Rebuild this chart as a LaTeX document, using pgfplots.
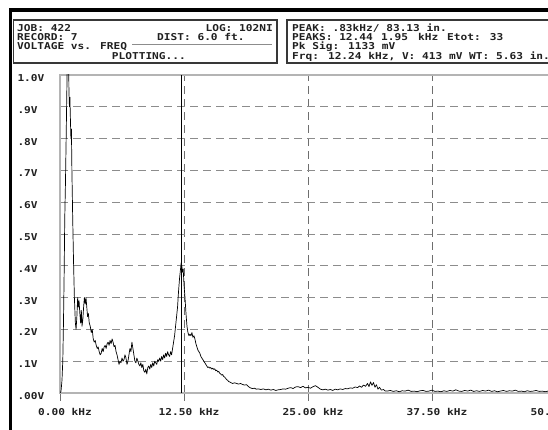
\documentclass[border=0pt]{standalone}
\usepackage{pgfplots}
\pgfplotsset{compat=1.18}
\usepackage{fontspec}
\newfontfamily\bmf{DejaVu Sans Mono}[FakeStretch=1.18]
\newcommand\hf{\fontsize{9.5}{10}\selectfont\bmf\bfseries}
\definecolor{txt}{HTML}{202020}
\definecolor{boxc}{HTML}{383838}
\definecolor{framec}{HTML}{B4B4B4}
\definecolor{hgridc}{HTML}{8C8C8C}
\definecolor{vgridc}{HTML}{6E6E6E}
\begin{document}
\begin{tikzpicture}
\useasboundingbox (0bp,0bp) rectangle (548bp,430bp);
\fill[white] (0bp,0bp) rectangle (548bp,430bp);
% black border
\fill[black] (9bp,418bp) rectangle (548bp,422bp);
\fill[black] (9bp,0bp) rectangle (12bp,422bp);
% header boxes
\draw[boxc, line width=1.3bp] (13.5bp,410bp) rectangle (277bp,367bp);
\draw[boxc, line width=1.3bp] (287bp,410bp) rectangle (570bp,367bp);
\begin{scope}[every node/.style={inner sep=0pt, text=txt, font=\hf}]
\node[anchor=base west] at (17bp,398.6bp) {JOB: 422};
\node[anchor=base east] at (273bp,398.6bp) {LOG: 102NI};
\node[anchor=base west] at (17bp,389.6bp) {RECORD: 7};
\node[anchor=base west] at (157bp,389.6bp) {DIST: 6.0 ft.};
\node[anchor=base west] at (17bp,380.1bp) {VOLTAGE vs. FREQ};
\node[anchor=base west] at (111.7bp,370.1bp) {PLOTTING...};
\node[anchor=base west] at (292bp,398.6bp) {PEAK: .83kHz/ 83.13 in.};
\node[anchor=base west] at (292bp,389.6bp) {PEAKS: 12.44};
\node[anchor=base west] at (381bp,389.6bp) {1.95};
\node[anchor=base west] at (418bp,389.6bp) {kHz};
\node[anchor=base west] at (447bp,389.6bp) {Etot: 33};
\node[anchor=base west] at (292bp,380.1bp) {Pk Sig: 1133 mV};
\node[anchor=base west] at (292bp,370.1bp) {Frq: 12.24 kHz, V: 413 mV WT: 5.63 in.};
\end{scope}
\draw[hgridc, line width=0.9bp] (132bp,385.5bp) -- (272bp,385.5bp);
\begin{axis}[
  at={(60bp,37bp)}, anchor=south west,
  scale only axis, width=496bp, height=318bp,
  xmin=0, xmax=50, ymin=0, ymax=1,
  axis line style={draw=framec, line width=1.6bp},
  xtick={0,12.5,25,37.5,50},
  xticklabels={0.00 kHz,12.50 kHz,25.00 kHz,37.50 kHz,50.00 kHz},
  ytick={0,0.1,0.2,0.3,0.4,0.5,0.6,0.7,0.8,0.9,1},
  yticklabels={.00V,.1V,.2V,.3V,.4V,.5V,.6V,.7V,.8V,.9V,{\raisebox{-5bp}{1.0V}}},
  xmajorgrids, ymajorgrids,
  x grid style={vgridc, dash pattern=on 8bp off 5bp, line width=0.8bp},
  y grid style={hgridc, dash pattern=on 8bp off 5bp, line width=0.8bp},
  tick pos=left, tick align=outside, major tick length=8bp,
  xtick style={vgridc, line width=0.8bp},
  ytick style={draw=none},
  ticklabel style={font=\hf, text=txt},
  xticklabel style={yshift=-4bp, xshift=5bp},
  yticklabel style={anchor=west, xshift=-38bp, yshift=-3bp},
  clip=true,
]
\addplot[black, line width=1.4bp] coordinates {(12.24,0) (12.24,1)};
\addplot[black, line width=0.7bp, line join=round] table {
x y
0.00 0.000
0.10 0.005
0.20 0.04
0.28 0.10
0.35 0.22
0.42 0.38
0.48 0.55
0.55 0.66
0.62 0.80
0.68 0.93
0.74 1.05
0.80 1.13
0.86 1.10
0.90 0.95
0.95 0.90
1.00 0.93
1.05 0.86
1.10 0.80
1.15 0.83
1.20 0.70
1.28 0.55
1.36 0.42
1.45 0.30
1.55 0.22
1.62 0.20
1.70 0.24
1.78 0.30
1.85 0.27
1.92 0.29
2.00 0.25
2.08 0.22
2.15 0.26
2.22 0.21
2.30 0.23
2.38 0.27
2.46 0.30
2.55 0.28
2.62 0.30
2.70 0.27
2.78 0.24
2.86 0.25
2.95 0.22
3.05 0.21
3.15 0.19
3.25 0.20
3.35 0.17
3.45 0.16
3.55 0.165
3.65 0.15
3.75 0.14
3.85 0.145
3.95 0.13
4.05 0.12
4.15 0.125
4.25 0.14
4.35 0.13
4.45 0.145
4.55 0.15
4.65 0.14
4.75 0.155
4.85 0.16
4.95 0.15
5.05 0.165
5.15 0.155
5.25 0.17
5.35 0.16
5.45 0.145
5.55 0.15
5.65 0.13
5.75 0.12
5.85 0.105
5.95 0.09
6.05 0.10
6.15 0.095
6.25 0.11
6.35 0.10
6.45 0.105
6.55 0.12
6.65 0.11
6.75 0.09
6.85 0.10
6.95 0.12
7.05 0.14
7.15 0.13
7.25 0.16
7.35 0.14
7.45 0.12
7.55 0.10
7.65 0.095
7.75 0.11
7.85 0.10
7.95 0.09
8.05 0.085
8.15 0.095
8.25 0.08
8.35 0.09
8.45 0.07
8.55 0.065
8.65 0.075
8.75 0.06
8.85 0.08
8.95 0.085
9.05 0.075
9.15 0.09
9.25 0.08
9.35 0.095
9.45 0.085
9.55 0.10
9.65 0.095
9.75 0.09
9.85 0.105
9.95 0.10
10.05 0.11
10.15 0.10
10.25 0.115
10.35 0.105
10.45 0.12
10.55 0.11
10.65 0.125
10.75 0.115
10.85 0.13
10.95 0.12
11.05 0.115
11.15 0.13
11.25 0.12
11.35 0.14
11.45 0.16
11.55 0.18
11.65 0.21
11.75 0.24
11.85 0.27
11.95 0.32
12.05 0.36
12.15 0.39
12.22 0.41
12.28 0.40
12.35 0.38
12.42 0.39
12.50 0.34
12.60 0.30
12.70 0.25
12.80 0.21
12.90 0.19
13.00 0.18
13.10 0.185
13.20 0.18
13.30 0.19
13.40 0.175
13.50 0.18
13.60 0.17
13.70 0.155
13.80 0.145
13.90 0.135
14.00 0.13
14.10 0.125
14.20 0.115
14.30 0.11
14.40 0.105
14.50 0.10
14.60 0.095
14.70 0.09
14.80 0.085
14.90 0.08
15.00 0.082
15.10 0.078
15.20 0.08
15.30 0.075
15.40 0.078
15.50 0.074
15.60 0.076
15.70 0.07
15.80 0.072
15.90 0.066
16.00 0.068
16.10 0.062
16.20 0.06
16.30 0.056
16.40 0.058
16.50 0.052
16.60 0.05
16.70 0.046
16.80 0.042
16.90 0.04
17.00 0.036
17.10 0.035
17.20 0.033
17.40 0.03
17.60 0.032
17.80 0.03
18.00 0.028
18.20 0.03
18.40 0.027
18.60 0.025
18.80 0.026
19.00 0.02
19.20 0.016
19.40 0.014
19.60 0.015
19.80 0.012
20.00 0.013
20.25 0.011
20.50 0.013
20.75 0.010
21.00 0.012
21.25 0.009
21.50 0.011
21.75 0.008
22.00 0.010
22.25 0.011
22.50 0.013
22.75 0.012
23.00 0.015
23.25 0.017
23.50 0.014
23.75 0.019
24.00 0.020
24.25 0.017
24.50 0.021
24.75 0.016
25.00 0.018
25.25 0.015
25.50 0.020
25.75 0.023
26.00 0.018
26.25 0.012
26.50 0.010
26.75 0.012
27.00 0.009
27.25 0.011
27.50 0.008
27.75 0.012
28.00 0.010
28.25 0.013
28.50 0.011
28.75 0.014
29.00 0.013
29.25 0.016
29.50 0.015
29.75 0.019
30.00 0.017
30.20 0.022
30.40 0.018
30.60 0.025
30.80 0.021
31.00 0.030
31.15 0.020
31.30 0.035
31.45 0.024
31.60 0.033
31.75 0.018
31.90 0.026
32.05 0.012
32.20 0.018
32.40 0.009
32.60 0.011
32.80 0.006
33.00 0.006
33.30 0.008
33.60 0.005
33.90 0.007
34.20 0.004
34.50 0.007
34.80 0.006
35.10 0.009
35.40 0.005
35.70 0.006
36.00 0.004
36.30 0.007
36.60 0.008
36.90 0.005
37.20 0.006
37.50 0.009
37.80 0.005
38.10 0.006
38.40 0.004
38.70 0.007
39.00 0.005
39.30 0.008
39.60 0.006
39.90 0.010
40.20 0.006
40.50 0.005
40.80 0.008
41.10 0.006
41.40 0.009
41.70 0.005
42.00 0.007
42.30 0.005
42.60 0.008
42.90 0.006
43.20 0.009
43.50 0.005
43.80 0.007
44.10 0.004
44.40 0.006
44.70 0.008
45.00 0.005
45.30 0.007
45.60 0.006
45.90 0.009
46.20 0.005
46.50 0.006
46.80 0.004
47.10 0.007
47.40 0.005
47.70 0.006
48.00 0.008
48.30 0.005
48.60 0.006
48.90 0.004
49.20 0.006
49.50 0.005
49.80 0.006
50.00 0.005
};
\end{axis}
\end{tikzpicture}
\end{document}
